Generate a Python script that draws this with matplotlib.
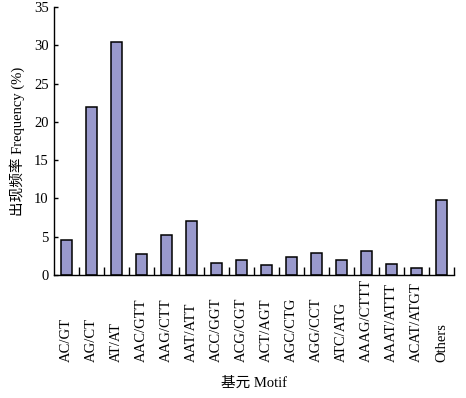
import numpy as np
import matplotlib.pyplot as plt
from matplotlib.ticker import FixedLocator

motifs = ['AC/GT', 'AG/CT', 'AT/AT', 'AAC/GTT', 'AAG/CTT', 'AAT/ATT', 'ACC/GGT',
          'ACG/CGT', 'ACT/AGT', 'AGC/CTG', 'AGG/CCT', 'ATC/ATG', 'AAAG/CTTT',
          'AAAT/ATTT', 'ACAT/ATGT', 'Others']
freq = [4.6, 22.0, 30.4, 2.8, 5.2, 7.1, 1.6, 1.9, 1.3, 2.3, 2.85, 1.9, 3.1, 1.5, 0.9, 9.8]
yticks = [0, 5, 10, 15, 20, 25, 30, 35]

fonts = ['Liberation Serif', 'Noto Sans CJK SC']
plt.rcParams['font.family'] = fonts
plt.rcParams['font.size'] = 10

fig = plt.figure(figsize=(4.66, 3.98), dpi=100)
ax = fig.add_axes([0.116, 0.309, 0.858, 0.673])

x = np.arange(len(motifs))
ax.bar(x, freq, width=0.42, color='#9999cc', edgecolor='black', linewidth=1.1)

ax.set_xlim(-0.5, len(motifs) - 0.5)
ax.set_ylim(0, 35)
ax.set_yticks(yticks)
ax.set_xticks([])
ax.xaxis.set_minor_locator(FixedLocator(np.arange(0.5, len(motifs), 1.0)))
ax.tick_params(axis='x', which='minor', direction='in', length=6, width=1)
ax.tick_params(axis='y', direction='in', length=3, width=1, pad=4, labelsize=10.5)

# category labels: rotated, all starting at the same baseline below the axis
for xi, lab in zip(x, motifs):
    ax.text(xi, -0.325, lab, rotation=90, ha='center', va='bottom',
            transform=ax.get_xaxis_transform(), fontsize=10.5)

for s in ['top', 'right']:
    ax.spines[s].set_visible(False)
for s in ['left', 'bottom']:
    ax.spines[s].set_linewidth(1.0)

ax.set_ylabel('出现频率 Frequency (%)', fontsize=10.5)
ax.yaxis.set_label_coords(-0.072, 0.5)
ax.set_xlabel('基元 Motif', fontsize=10.5)
ax.xaxis.set_label_coords(0.5, -0.403)
ax.xaxis.label.set_va('center')

fig.savefig('out.png', dpi=100)
